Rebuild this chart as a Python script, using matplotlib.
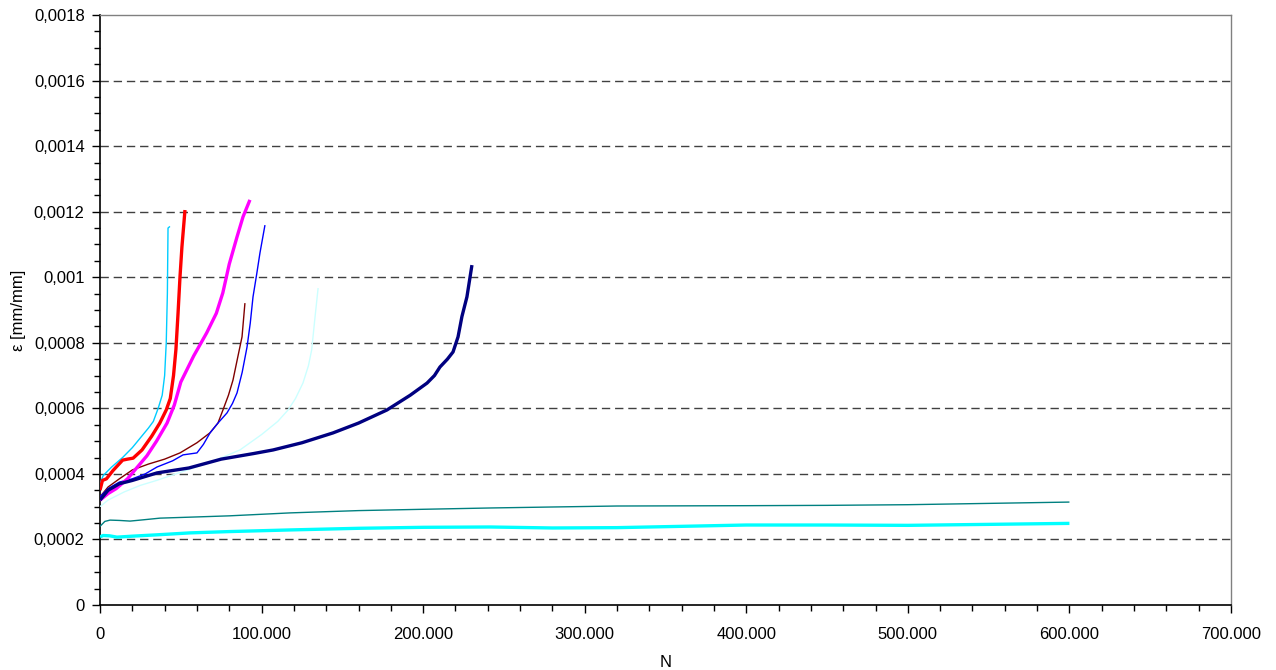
import matplotlib
matplotlib.use("Agg")
import matplotlib.pyplot as plt
from matplotlib.ticker import MultipleLocator, FuncFormatter

plt.rcParams['font.family'] = ['Liberation Sans', 'DejaVu Sans']

# Strain (mm/mm) versus number of load cycles N for each specimen
sky_n = [0, 2000, 7000, 14000, 20000, 25000, 30000, 33000, 36000, 38500, 40000, 41000, 41700, 42100, 43300]
sky_e = [0.000370, 0.000395, 0.000420, 0.000450, 0.000480, 0.000510, 0.000540, 0.000560, 0.000600,
         0.000640, 0.000700, 0.000800, 0.000950, 0.001150, 0.001155]

red_n = [0, 1500, 4000, 8000, 14000, 17000, 20500, 26000, 32000, 37000, 41000, 43500, 45500, 47000,
         48300, 49500, 50700, 52600]
red_e = [0.000350, 0.000380, 0.000385, 0.000410, 0.000442, 0.000445, 0.000448, 0.000473, 0.000515,
         0.000555, 0.000595, 0.000630, 0.000700, 0.000780, 0.000890, 0.001000, 0.001092, 0.001205]

mag_n = [0, 5000, 10000, 17000, 23000, 29000, 35000, 41500, 46000, 50000, 58000, 66000, 72000, 76000,
         80000, 84800, 88500, 92800]
mag_e = [0.000320, 0.000340, 0.000355, 0.000385, 0.000420, 0.000455, 0.000500, 0.000555, 0.000610,
         0.000680, 0.000760, 0.000830, 0.000890, 0.000952, 0.001040, 0.001123, 0.001184, 0.001236]

maroon_n = [0, 5000, 12000, 20000, 30000, 40000, 49500, 60000, 68000, 73000, 76100, 79500, 82300,
            85000, 87900, 89700]
maroon_e = [0.000330, 0.000360, 0.000385, 0.000412, 0.000430, 0.000445, 0.000464, 0.000495, 0.000525,
            0.000555, 0.000595, 0.000640, 0.000686, 0.000750, 0.000818, 0.000921]

blue_n = [0, 5000, 12000, 20000, 28000, 35300, 45000, 51400, 60000, 64000, 68100, 73000, 78600, 82000,
          84800, 88000, 91000, 93000, 94700, 97000, 99000, 102100]
blue_e = [0.000330, 0.000355, 0.000375, 0.000385, 0.000400, 0.000421, 0.000440, 0.000458, 0.000464,
          0.000490, 0.000525, 0.000555, 0.000586, 0.000615, 0.000647, 0.000710, 0.000787, 0.000860,
          0.000940, 0.001010, 0.001074, 0.001159]

pale_n = [0, 5000, 15000, 25000, 35000, 50000, 65000, 76000, 86600, 100000, 110000, 116400, 121000,
          125600, 129000, 131000, 133100, 135000]
pale_e = [0.000300, 0.000320, 0.000345, 0.000365, 0.000380, 0.000405, 0.000430, 0.000451, 0.000473,
          0.000520, 0.000560, 0.000595, 0.000630, 0.000677, 0.000730, 0.000778, 0.000879, 0.000967]

navy_n = [0, 5000, 12000, 20000, 35300, 55000, 75000, 95000, 107100, 125000, 144200, 160000, 177600,
          192000, 202400, 207000, 210400, 215000, 218500, 221600, 224000, 227100, 230200]
navy_e = [0.000320, 0.000350, 0.000370, 0.000380, 0.000403, 0.000418, 0.000445, 0.000462, 0.000473,
          0.000495, 0.000525, 0.000555, 0.000595, 0.000640, 0.000677, 0.000700, 0.000726, 0.000750,
          0.000772, 0.000818, 0.000880, 0.000940, 0.001037]

teal_n = [0, 3000, 6200, 12000, 18600, 27000, 37100, 55700, 80000, 117600, 160000, 200000, 241400,
          280000, 320000, 400000, 450000, 500000, 550000, 600000]
teal_e = [0.000240, 0.000255, 0.000259, 0.000258, 0.000256, 0.000260, 0.000265, 0.000268, 0.000272,
          0.000281, 0.000288, 0.000292, 0.000296, 0.000299, 0.000302, 0.000303, 0.000304, 0.000306,
          0.000310, 0.000314]

cyan_n = [0, 2000, 6000, 10500, 20000, 35000, 55700, 80000, 117600, 160000, 200000, 241400, 280000,
          320000, 360000, 400000, 450000, 500000, 550000, 600000]
cyan_e = [0.000208, 0.000212, 0.000211, 0.000207, 0.000210, 0.000214, 0.000220, 0.000224, 0.000229,
          0.000234, 0.000237, 0.000238, 0.000235, 0.000236, 0.000240, 0.000244, 0.000244, 0.000243,
          0.000246, 0.000249]

fig = plt.figure(figsize=(12.76, 6.70), dpi=100)
ax = fig.add_axes([100 / 1276, 1 - 605 / 670, 1131 / 1276, 590 / 670])

thin = 1.0
thick = 2.4
series = [
    (pale_n, pale_e, '#CCFFFF', thin),
    (teal_n, teal_e, '#008080', thin),
    (cyan_n, cyan_e, '#00FFFF', thick),
    (sky_n, sky_e, '#00CCFF', thin),
    (maroon_n, maroon_e, '#800000', thin),
    (blue_n, blue_e, '#0000FF', thin),
    (mag_n, mag_e, '#FF00FF', thick),
    (red_n, red_e, '#FF0000', thick),
    (navy_n, navy_e, '#000080', thick),
]
for n, e, c, lw in series:
    ax.plot(n, e, color=c, lw=lw, solid_joinstyle='round', solid_capstyle='butt', zorder=3)

ax.set_xlim(0, 700000)
ax.set_ylim(0, 0.0018)
ax.xaxis.set_major_locator(MultipleLocator(100000))
ax.xaxis.set_minor_locator(MultipleLocator(20000))
ax.yaxis.set_major_locator(MultipleLocator(0.0002))
ax.yaxis.set_minor_locator(MultipleLocator(0.00005))


def fmt_x(v, pos):
    return '{:,.0f}'.format(v).replace(',', '.')


def fmt_y(v, pos):
    v = round(v, 6)
    if v == 0:
        return '0'
    s = ('%.6f' % v).rstrip('0')
    return s.replace('.', ',')


ax.xaxis.set_major_formatter(FuncFormatter(fmt_x))
ax.yaxis.set_major_formatter(FuncFormatter(fmt_y))

ax.tick_params(which='major', direction='out', length=6, width=1, labelsize=12, color='black')
ax.tick_params(which='minor', direction='out', length=4, width=1, color='black')
ax.tick_params(axis='x', pad=10)
ax.tick_params(axis='y', pad=5)

for yv in [0.0002, 0.0004, 0.0006, 0.0008, 0.0010, 0.0012, 0.0014, 0.0016]:
    ax.axhline(yv, color='#404040', lw=1.0, dashes=(6, 3.5), zorder=1)

for side in ['left', 'bottom']:
    ax.spines[side].set_color('black')
    ax.spines[side].set_linewidth(1.2)
for side in ['top', 'right']:
    ax.spines[side].set_color('#808080')
    ax.spines[side].set_linewidth(1.0)

ax.set_xlabel('N', fontsize=12, labelpad=9)
ax.set_ylabel('ε [mm/mm]', fontsize=12, labelpad=6)

fig.savefig('out.png', dpi=100)
